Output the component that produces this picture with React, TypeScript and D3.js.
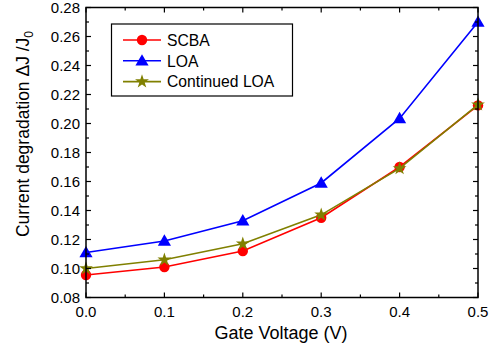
import React from "react";
import * as d3 from "d3";

const voltages = [0.0, 0.1, 0.2, 0.3, 0.4, 0.5];
const scba = [0.0955, 0.101, 0.112, 0.135, 0.170, 0.2125];
const loa = [0.111, 0.119, 0.133, 0.159, 0.2035, 0.270];
const continuedLoa = [0.100, 0.106, 0.117, 0.137, 0.169, 0.213];
const xTicks = [0.0, 0.1, 0.2, 0.3, 0.4, 0.5];
const yTicks = [0.08, 0.1, 0.12, 0.14, 0.16, 0.18, 0.2, 0.22, 0.24, 0.26, 0.28];
const xMinor = [0.05, 0.15, 0.25, 0.35, 0.45];
const yMinor = [0.09, 0.11, 0.13, 0.15, 0.17, 0.19, 0.21, 0.23, 0.25, 0.27];

const W = 503, H = 349;
const L = 86, R = 478, T = 7.5, B = 297.5;
const font = "'Liberation Sans', Arial, sans-serif";

function Marker({ kind, x, y, color }: { kind: string; x: number; y: number; color: string }) {
  if (kind === "circle") return <circle cx={x} cy={y} r={5.2} fill={color} />;
  if (kind === "triangle") {
    const s = d3.symbol(d3.symbolTriangle, 75)();
    return <path d={s as string} transform={`translate(${x},${y + 1})`} fill={color} />;
  }
  const s = d3.symbol(d3.symbolStar, 60)();
  return <path d={s as string} transform={`translate(${x},${y})`} fill={color} />;
}

export default function App() {
  const x = d3.scaleLinear().domain([0, 0.5]).range([L, R]);
  const y = d3.scaleLinear().domain([0.08, 0.28]).range([B, T]);
  const line = d3.line<number>().x((_, i) => x(voltages[i])).y((d) => y(d));
  const series = [
    { name: "SCBA", data: scba, color: "#ff0000", marker: "circle" },
    { name: "LOA", data: loa, color: "#0000ff", marker: "triangle" },
    { name: "Continued LOA", data: continuedLoa, color: "#808000", marker: "star" },
  ];
  return (
    <svg width={W} height={H} style={{ display: "block", position: "absolute", left: 0, top: 0 }} fontFamily={font}>
      <rect x={0} y={0} width={W} height={H} fill="#fff" />
      {series.map((s) => (
        <g key={s.name}>
          <path d={line(s.data) as string} fill="none" stroke={s.color} strokeWidth={1.6} />
          {s.data.map((v, i) => (
            <Marker key={i} kind={s.marker} x={x(voltages[i])} y={y(v)} color={s.color} />
          ))}
        </g>
      ))}
      <rect x={L} y={T} width={R - L} height={B - T} fill="none" stroke="#000" strokeWidth={1.5} />
      {xTicks.map((t) => (
        <g key={t}>
          <line x1={x(t)} x2={x(t)} y1={B} y2={B - 5} stroke="#000" strokeWidth={1.2} />
          <line x1={x(t)} x2={x(t)} y1={T} y2={T + 5} stroke="#000" strokeWidth={1.2} />
          <text x={x(t)} y={317} fontSize={15} textAnchor="middle">{t.toFixed(1)}</text>
        </g>
      ))}
      {xMinor.map((t) => (
        <g key={t}>
          <line x1={x(t)} x2={x(t)} y1={B} y2={B - 3} stroke="#000" strokeWidth={1.2} />
          <line x1={x(t)} x2={x(t)} y1={T} y2={T + 3} stroke="#000" strokeWidth={1.2} />
        </g>
      ))}
      {yTicks.map((t) => (
        <g key={t}>
          <line x1={L} x2={L + 5} y1={y(t)} y2={y(t)} stroke="#000" strokeWidth={1.2} />
          <line x1={R} x2={R - 5} y1={y(t)} y2={y(t)} stroke="#000" strokeWidth={1.2} />
          <text x={80} y={y(t) + 5.3} fontSize={15} textAnchor="end">{t.toFixed(2)}</text>
        </g>
      ))}
      {yMinor.map((t) => (
        <g key={t}>
          <line x1={L} x2={L + 3} y1={y(t)} y2={y(t)} stroke="#000" strokeWidth={1.2} />
          <line x1={R} x2={R - 3} y1={y(t)} y2={y(t)} stroke="#000" strokeWidth={1.2} />
        </g>
      ))}
      <text x={281} y={339} fontSize={18} textAnchor="middle">Gate Voltage (V)</text>
      <text transform="translate(29,134) rotate(-90)" fontSize={17.5} textAnchor="middle">
        Current degradation ΔJ /J<tspan fontSize={12} dy={4}>0</tspan>
      </text>
      <rect x={111.5} y={24} width={181} height={72} fill="#fff" stroke="#000" strokeWidth={1.2} />
      {series.map((s, i) => {
        const ly = 40 + i * 20.8;
        return (
          <g key={s.name}>
            <line x1={123} x2={161} y1={ly} y2={ly} stroke={s.color} strokeWidth={1.6} />
            <Marker kind={s.marker} x={142} y={ly} color={s.color} />
            <text x={167} y={ly + 5.7} fontSize={15.7}>{s.name}</text>
          </g>
        );
      })}
    </svg>
  );
}
